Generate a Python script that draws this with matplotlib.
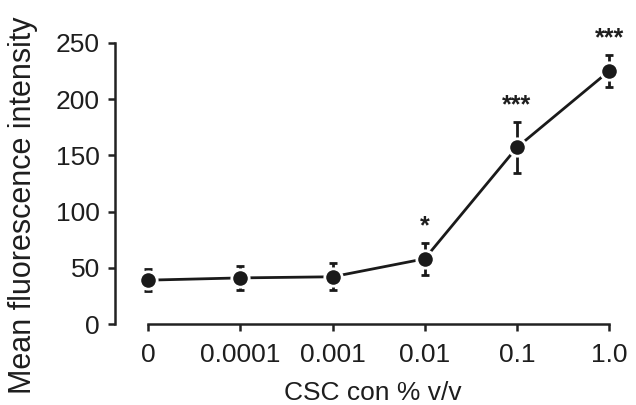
import numpy as np
import matplotlib.pyplot as plt

plt.rcParams['font.family'] = ['Liberation Sans', 'DejaVu Sans']

conc_labels = ["0", "0.0001", "0.001", "0.01", "0.1", "1.0"]
mean_fi = [39, 41, 42, 58, 157, 225]
sem_fi = [10, 11, 12, 14, 23, 14]
sig = ["", "", "", "*", "***", "***"]

x = np.arange(len(conc_labels))
txt = '#1e1e1e'

fig = plt.figure(figsize=(6.36, 4.05), dpi=100)
ax = fig.add_axes([0.181, 0.2, 0.81, 0.694])

ax.errorbar(x, mean_fi, yerr=sem_fi, fmt='-o', color='#1a1a1a', lw=2,
            ms=12.5, mfc='#1a1a1a', mec='white', mew=2,
            elinewidth=2, capsize=3, capthick=2)

for xi, m, e, s in zip(x, mean_fi, sem_fi, sig):
    if s:
        ax.text(xi, m + e + 4, s, ha='center', va='bottom', fontsize=18,
                fontweight='bold', color=txt, clip_on=False)

ax.set_xlim(-0.358, 5.23)
ax.set_ylim(0, 250)
ax.set_xticks(x)
ax.set_xticklabels(conc_labels)
ax.set_yticks([0, 50, 100, 150, 200, 250])

for side in ['top', 'right']:
    ax.spines[side].set_visible(False)
ax.spines['left'].set_bounds(0, 250)
ax.spines['bottom'].set_bounds(0, 5)
for side in ['left', 'bottom']:
    ax.spines[side].set_linewidth(1.8)
    ax.spines[side].set_color('#222222')

ax.tick_params(axis='both', labelsize=19, colors='#222222', width=1.8,
               length=5, labelcolor=txt)
ax.tick_params(axis='x', pad=9)
ax.tick_params(axis='y', pad=6)

ax.set_xlabel("CSC con % v/v", fontsize=19, color=txt, va='center')
ax.set_ylabel("Mean fluorescence intensity", fontsize=22, color=txt, va='center')
ax.xaxis.set_label_coords(0.501, -0.246)
ax.yaxis.set_label_coords(-0.179, 0.424)

fig.savefig("out.png", dpi=100)
